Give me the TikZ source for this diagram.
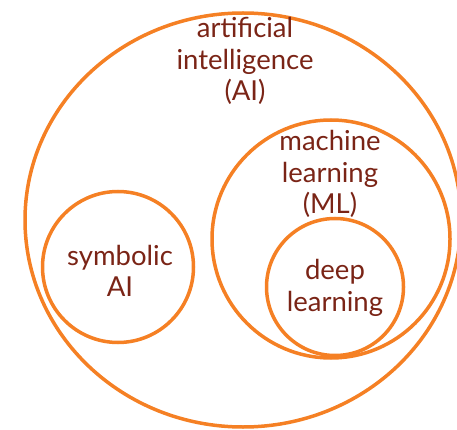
\documentclass[tikz,border=0pt]{standalone}
\usepackage{fontspec}
\setmainfont{Lato}
\usetikzlibrary{shapes.geometric}
\definecolor{ringorange}{RGB}{245,128,36}
\definecolor{labelbrown}{RGB}{122,36,22}
\tikzset{
  ring/.style={draw=ringorange, line width=3.5pt, inner sep=0pt},
  label/.style={text=labelbrown, align=center, font=\fontsize{27.5}{31.5}\selectfont, inner sep=0pt}
}
\begin{document}
\begin{tikzpicture}[x=1pt,y=-1pt]
\useasboundingbox (0,0) rectangle (457,430);
\clip (0,0) rectangle (457,430);
\node[ring, ellipse, minimum width=436pt, minimum height=414pt] (ai) at (243,220) {};
\node[ring, circle, minimum size=238pt] (ml) at (331,239) {};
\node[ring, circle, minimum size=151pt] (sym) at (118,267) {};
\node[ring, circle, minimum size=137pt] (dl) at (335,287) {};
\node[label] (tai) at (245,61) {artificial\\intelligence\\(AI)};
\node[label] (tml) at (330,174) {machine\\learning\\(ML)};
\node[label] (tsym) at (120,271) {symbolic\\AI};
\node[label] (tdl) at (335,288) {deep\\learning};
\end{tikzpicture}
\end{document}
